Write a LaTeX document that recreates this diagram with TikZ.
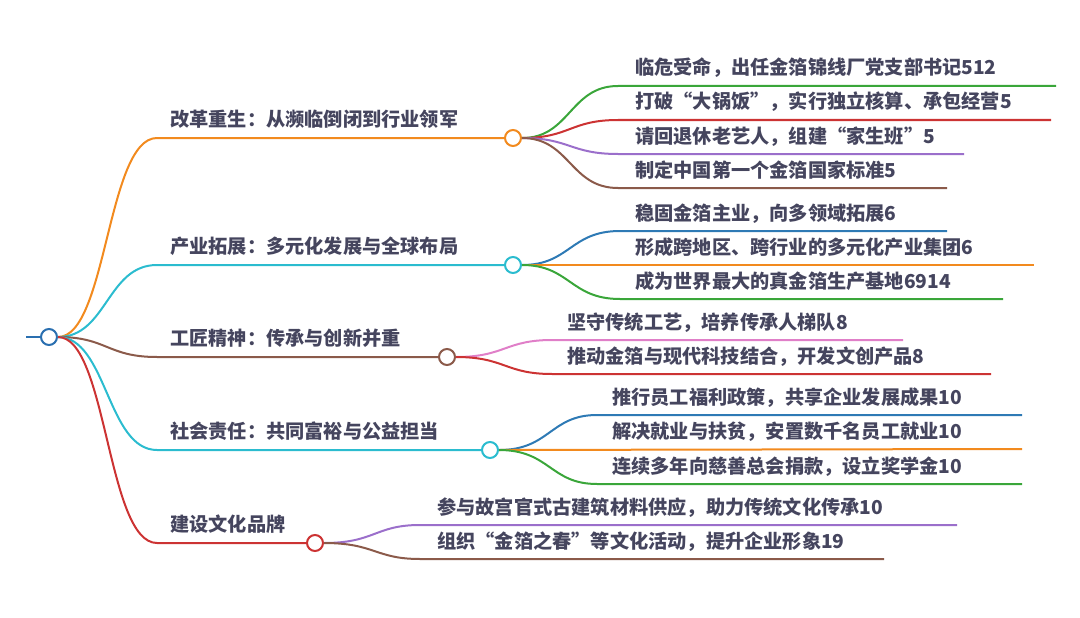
\documentclass[tikz,border=0pt]{standalone}
\usepackage{fontspec}
\setmainfont{Noto Sans CJK SC}
\definecolor{txt}{HTML}{45455E}
\definecolor{corange}{HTML}{F28A1E}
\definecolor{cteal}{HTML}{2BBCCF}
\definecolor{cbrown}{HTML}{8B5A4A}
\definecolor{cred}{HTML}{CC3333}
\definecolor{cgreen}{HTML}{3AA63A}
\definecolor{cpurple}{HTML}{9B6FCB}
\definecolor{cblue}{HTML}{2E7AB5}
\definecolor{cpink}{HTML}{E07FC8}
\definecolor{croot}{HTML}{2A6FB0}
\tikzset{
  lbl/.style={anchor=base west, inner sep=0pt, font=\fontsize{19.2}{19.2}\selectfont\bfseries, text=txt},
  dot/.style={circle, draw, fill=white, line width=2pt, minimum size=16pt, inner sep=0pt},
  br/.style={line width=2pt},
}
\begin{document}
\begin{tikzpicture}[x=1pt,y=-1pt]
\useasboundingbox (0,0) rectangle (1080,618);
% root
\coordinate (rl) at (26,337);
\node[dot, draw=croot] (root) at (49,337) {};
\draw[br, croot] (rl) -- (root);

% ---------- Branch 1
\coordinate (k1) at (157,138);
\node[dot, draw=corange] (b1) at (513,138) {};
\draw[br, corange] (root.east) .. controls (107,337) and (107,138) .. (k1) -- (b1);
\node[lbl] (t1) at (170,126) {改革重生：从濒临倒闭到行业领军};
\coordinate (k11) at (618,86);  \coordinate (e11) at (1056,86);
\coordinate (k12) at (618,120); \coordinate (e12) at (1051,120);
\coordinate (k13) at (618,154); \coordinate (e13) at (964,154);
\coordinate (k14) at (618,188); \coordinate (e14) at (947,188);
\draw[br, cgreen]  (b1.east) .. controls (570,138) and (570,86) .. (k11) -- (e11);
\draw[br, cred]    (b1.east) .. controls (570,138) and (570,120) .. (k12) -- (e12);
\draw[br, cpurple] (b1.east) .. controls (570,138) and (570,154) .. (k13) -- (e13);
\draw[br, cbrown]  (b1.east) .. controls (570,138) and (570,188) .. (k14) -- (e14);
\node[lbl] (t11) at (635,75)  {临危受命，出任金箔锦线厂党支部书记512};
\node[lbl] (t12) at (635,109) {打破“大锅饭”，实行独立核算、承包经营5};
\node[lbl] (t13) at (635,143) {请回退休老艺人，组建“家生班”5};
\node[lbl] (t14) at (635,177) {制定中国第一个金箔国家标准5};

% ---------- Branch 2
\coordinate (k2) at (157,265);
\node[dot, draw=cteal] (b2) at (513,265) {};
\draw[br, cteal] (root.east) .. controls (107,337) and (107,265) .. (k2) -- (b2);
\node[lbl] (t2) at (170,253) {产业拓展：多元化发展与全球布局};
\coordinate (k21) at (620,231); \coordinate (e21) at (947,231);
\coordinate (k22) at (620,265); \coordinate (e22) at (1034,265);
\coordinate (k23) at (620,299); \coordinate (e23) at (1003,299);
\draw[br, cblue]   (b2.east) .. controls (570,265) and (570,231) .. (k21) -- (e21);
\draw[br, corange] (b2.east) -- (e22);
\draw[br, cgreen]  (b2.east) .. controls (570,265) and (570,299) .. (k23) -- (e23);
\node[lbl] (t21) at (635,220) {稳固金箔主业，向多领域拓展6};
\node[lbl] (t22) at (635,254) {形成跨地区、跨行业的多元化产业集团6};
\node[lbl] (t23) at (635,288) {成为世界最大的真金箔生产基地6914};

% ---------- Branch 3
\coordinate (k3) at (157,357);
\node[dot, draw=cbrown] (b3) at (447,357) {};
\draw[br, cbrown] (root.east) .. controls (107,337) and (107,357) .. (k3) -- (b3);
\node[lbl] (t3) at (170,345) {工匠精神：传承与创新并重};
\coordinate (k31) at (552,340); \coordinate (e31) at (903,340);
\coordinate (k32) at (552,374); \coordinate (e32) at (991,374);
\draw[br, cpink] (b3.east) .. controls (505,357) and (505,340) .. (k31) -- (e31);
\draw[br, cred]  (b3.east) .. controls (505,357) and (505,374) .. (k32) -- (e32);
\node[lbl] (t31) at (567,329) {坚守传统工艺，培养传承人梯队8};
\node[lbl] (t32) at (567,363) {推动金箔与现代科技结合，开发文创产品8};

% ---------- Branch 4
\coordinate (k4) at (157,450);
\node[dot, draw=cteal] (b4) at (490,450) {};
\draw[br, cteal] (root.east) .. controls (107,337) and (107,450) .. (k4) -- (b4);
\node[lbl] (t4) at (170,438) {社会责任：共同富裕与公益担当};
\coordinate (k41) at (597,415); \coordinate (e41) at (1022,415);
\coordinate (k42) at (597,449); \coordinate (e42) at (1022,449);
\coordinate (k43) at (597,484); \coordinate (e43) at (1022,484);
\draw[br, cblue]   (b4.east) .. controls (550,450) and (550,415) .. (k41) -- (e41);
\draw[br, corange] (b4.east) -- (e42);
\draw[br, cgreen]  (b4.east) .. controls (550,450) and (550,484) .. (k43) -- (e43);
\node[lbl] (t41) at (612,404) {推行员工福利政策，共享企业发展成果10};
\node[lbl] (t42) at (612,438) {解决就业与扶贫，安置数千名员工就业10};
\node[lbl] (t43) at (612,473) {连续多年向慈善总会捐款，设立奖学金10};

% ---------- Branch 5
\coordinate (k5) at (157,543);
\node[dot, draw=cred] (b5) at (315,543) {};
\draw[br, cred] (root.east) .. controls (107,337) and (107,543) .. (k5) -- (b5);
\node[lbl] (t5) at (170,531) {建设文化品牌};
\coordinate (k51) at (420,525); \coordinate (e51) at (957,525);
\coordinate (k52) at (420,559); \coordinate (e52) at (884,559);
\draw[br, cpurple] (b5.east) .. controls (375,543) and (375,525) .. (k51) -- (e51);
\draw[br, cbrown]  (b5.east) .. controls (375,543) and (375,559) .. (k52) -- (e52);
\node[lbl] (t51) at (437,514) {参与故宫官式古建筑材料供应，助力传统文化传承10};
\node[lbl] (t52) at (437,548) {组织“金箔之春”等文化活动，提升企业形象19};
\end{tikzpicture}
\end{document}
